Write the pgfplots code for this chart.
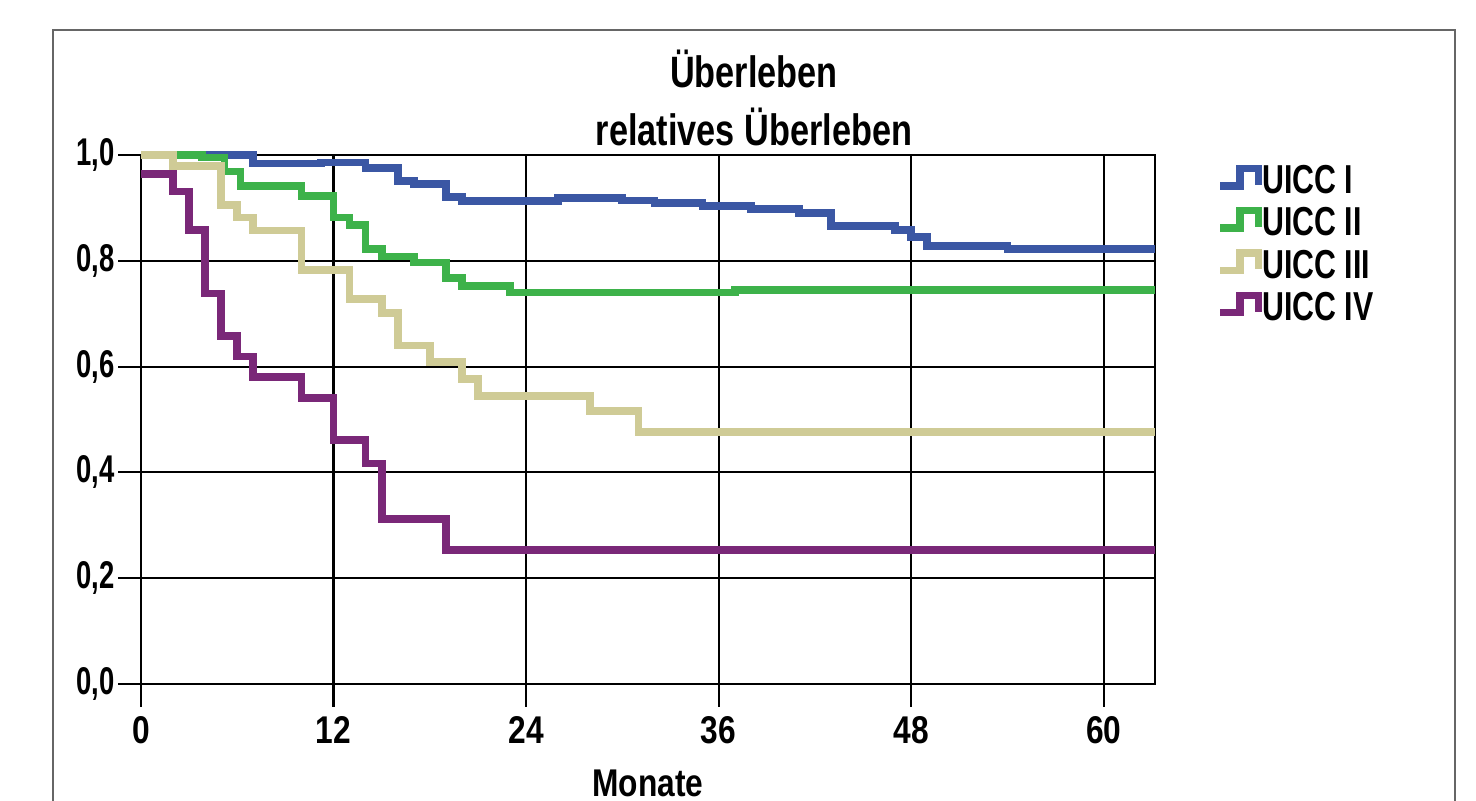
\documentclass[border=0pt]{standalone}
\usepackage{pgfplots}
\pgfplotsset{compat=1.18}
\usepackage{fontspec}
\setmainfont{Liberation Sans}[FakeStretch=0.82]
\newfontfamily\titlefont{Liberation Sans}[FakeStretch=0.78]
\newfontfamily\legfont{Liberation Sans}[FakeStretch=0.75]
\newfontfamily\ytfont{Liberation Sans}[FakeStretch=0.71]
\definecolor{cI}{RGB}{59,87,164}
\definecolor{cII}{RGB}{61,178,74}
\definecolor{cIII}{RGB}{207,203,150}
\definecolor{cIV}{RGB}{122,40,120}
\begin{document}
\fontsize{11}{13}\selectfont\bfseries
\begin{tikzpicture}
\useasboundingbox (0,0) rectangle (14.76,8.01);
\draw[line width=0.7pt, black!60] (0.53,-0.1) -- (0.53,7.71) -- (14.55,7.71) -- (14.55,-0.1);
\begin{axis}[
  at={(1.41cm,1.17cm)}, anchor=south west,
  scale only axis, width=10.14cm, height=5.29cm,
  xmin=0, xmax=63.2, ymin=0, ymax=1,
  xtick={0,12,24,36,48,60},
  ytick={0,0.2,0.4,0.6,0.8,1.0},
  yticklabel style={/pgf/number format/fixed, /pgf/number format/fixed zerofill, /pgf/number format/precision=1, /pgf/number format/use comma, inner sep=0.03cm, font=\ytfont\fontsize{11}{13}\selectfont\bfseries},
  /pgf/number format/assume math mode=true,
  tick align=outside, tick pos=left,
  major tick length=0.23cm,
  tick style={black, line width=0.6pt},
  grid=major,
  grid style={black, line width=0.6pt},
  axis line style={black, line width=0.8pt},
  xticklabel style={inner sep=0.09cm},
  clip=false,
  xlabel={Monate},
  xlabel style={at={(axis description cs:0.5,0)}, anchor=base, yshift=-1.13cm},
  legend cell align=left,
  legend style={at={(axis description cs:1.0601,0.9849)}, anchor=north west,
    draw=none, fill=none, inner sep=0pt, row sep=0pt, column sep=0.0cm,
    font=\legfont\fontsize{11.5}{13}\selectfont\bfseries,
    nodes={inner sep=0pt, text height=0.3cm, text depth=0.123cm}},
  legend image code/.code={\draw[#1, line width=2.1pt] (0cm,-0.01cm) -- (0.197cm,-0.01cm) -- (0.197cm,0.165cm) -- (0.383cm,0.165cm) -- (0.383cm,0cm);},
  every axis plot/.append style={line width=2.2pt, const plot},
]
\addplot[cI] coordinates {(0,1.0) (7,0.984) (11.2,0.986) (14,0.975) (16,0.951) (17,0.945) (19,0.921) (20,0.913) (26,0.918) (30,0.914) (32,0.909) (35,0.904) (38,0.898) (41,0.891) (43,0.866) (47,0.858) (48,0.845) (49,0.828) (54,0.822) (63.2,0.822)};
\addlegendentry{UICC I}
\addplot[cII] coordinates {(0,1.0) (3.8,0.995) (5.2,0.969) (6.2,0.942) (10,0.923) (12,0.882) (13,0.868) (14,0.822) (15,0.808) (17,0.797) (19,0.767) (20,0.752) (23,0.740) (37,0.745) (63.2,0.745)};
\addlegendentry{UICC II}
\addplot[cIII] coordinates {(0,1.0) (2,0.979) (5,0.906) (6,0.882) (7,0.857) (10,0.783) (13,0.728) (15,0.701) (16,0.640) (18,0.609) (20,0.577) (21,0.545) (28,0.516) (31,0.476) (63.2,0.476)};
\addlegendentry{UICC III}
\addplot[cIV] coordinates {(0,0.964) (2,0.931) (3,0.858) (4,0.738) (5,0.658) (6,0.619) (7,0.580) (10,0.541) (12,0.461) (14,0.417) (15,0.312) (19,0.253) (63.2,0.253)};
\addlegendentry{UICC IV}
\end{axis}
\node[anchor=base, font=\titlefont\fontsize{12.5}{15}\selectfont\bfseries] at (7.54,7.13) {Überleben};
\node[anchor=base, font=\titlefont\fontsize{12.5}{15}\selectfont\bfseries] at (7.54,6.55) {relatives Überleben};
\end{tikzpicture}
\end{document}
